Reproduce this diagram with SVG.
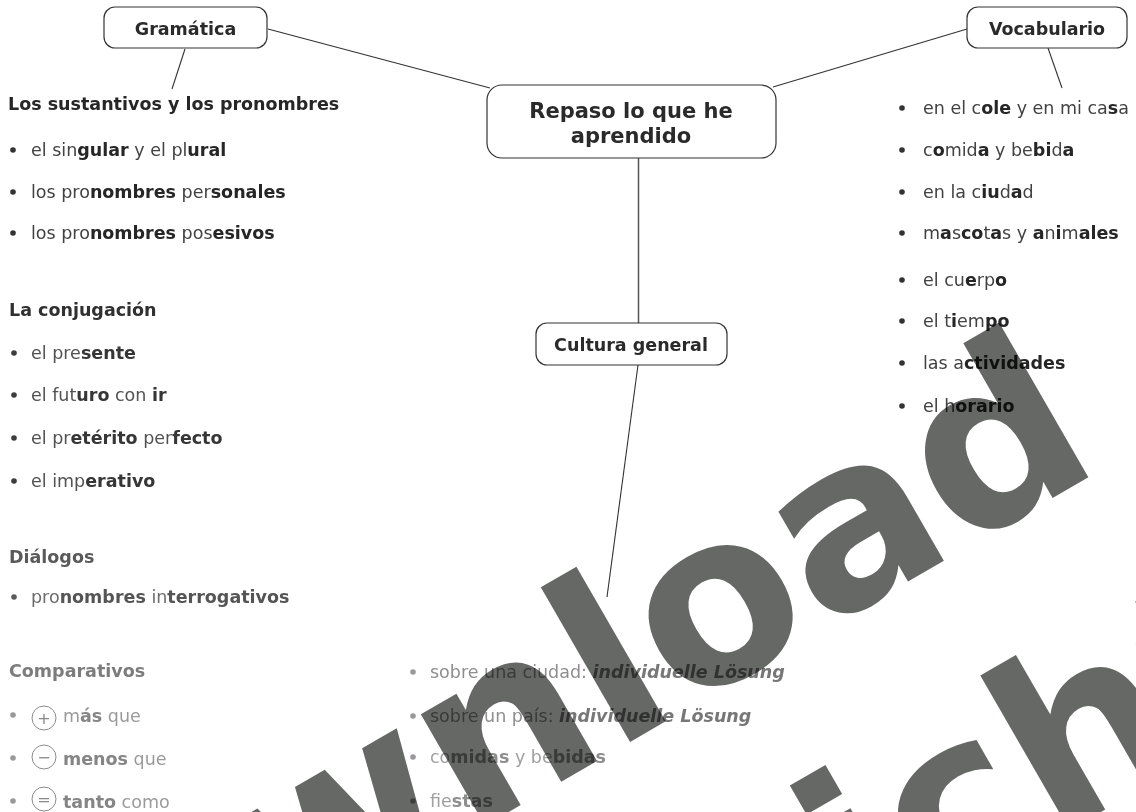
<svg xmlns="http://www.w3.org/2000/svg" width="1136" height="812" viewBox="0 0 1136 812">
<style>
text{font-family:"DejaVu Sans","Liberation Sans",sans-serif;font-size:17.5px}
.b{font-weight:bold}
.bi{font-weight:bold;font-style:italic}
.node rect{fill:#fff;stroke:#333;stroke-width:1.2}
.node text{font-weight:bold;fill:#2a2a2a;text-anchor:middle}
.t1{fill:#424242}.t1 .b{fill:#262626}
.t2{fill:#525252}.t2 .b{fill:#363636}
.t3{fill:#6c6c6c}.t3 .b{fill:#555}
.t4{fill:#9a9a9a}.t4 .b{fill:#858585}
.t5{fill:#8e8e8e}.t5 .bi{fill:#777}
.t6{fill:#a0a0a0}.t6 .b{fill:#8e8e8e}
.sym{fill:none;stroke:#8a8a8a;stroke-width:1}
.symt{fill:#8a8a8a;font-size:16px;text-anchor:middle}
</style>

<g id="connectors" stroke="#333" stroke-width="1.1" fill="none">
<line x1="268" y1="29" x2="490" y2="88"/>
<line x1="185" y1="49" x2="172" y2="89"/>
<line x1="773" y1="87" x2="967" y2="29"/>
<line x1="1048" y1="48" x2="1062" y2="88"/>
<line x1="638.5" y1="158" x2="638.5" y2="323" stroke="#555" stroke-width="1.5"/>
<line x1="638" y1="365" x2="607" y2="597"/>
</g>

<g id="node-gramatica" class="node">
<rect x="104" y="7" width="163" height="41" rx="11"/>
<text x="185.5" y="35">Gramática</text>
</g>
<g id="node-vocabulario" class="node">
<rect x="967" y="7" width="160" height="41" rx="11"/>
<text x="1047" y="35">Vocabulario</text>
</g>
<g id="node-central" class="node">
<rect x="487" y="85" width="289" height="73" rx="15"/>
<text x="631" y="118" style="font-size:21px">Repaso lo que he</text>
<text x="631" y="143" style="font-size:21px">aprendido</text>
</g>
<g id="node-cultura" class="node">
<rect x="536" y="323" width="191" height="42" rx="11"/>
<text x="631" y="351">Cultura general</text>
</g>

<g id="gramatica-list">
<text x="8" y="109.5" class="b" fill="#262626">Los sustantivos y los pronombres</text>
<g fill="#333"><circle cx="13" cy="150" r="2.8"/><circle cx="13" cy="192" r="2.8"/><circle cx="13" cy="233" r="2.8"/></g>
<text x="31" y="156" class="t1">el sin<tspan class="b">gular</tspan> y el pl<tspan class="b">ural</tspan></text>
<text x="31" y="198" class="t1">los pro<tspan class="b">nombres</tspan> per<tspan class="b">sonales</tspan></text>
<text x="31" y="239" class="t1">los pro<tspan class="b">nombres</tspan> pos<tspan class="b">esivos</tspan></text>

<text x="9" y="316" class="b" fill="#303030">La conjugación</text>
<g fill="#3c3c3c"><circle cx="14" cy="353" r="2.8"/><circle cx="14" cy="395" r="2.8"/><circle cx="14" cy="438" r="2.8"/><circle cx="14" cy="481" r="2.8"/></g>
<text x="31" y="359" class="t2">el pre<tspan class="b">sente</tspan></text>
<text x="31" y="401" class="t2">el fut<tspan class="b">uro</tspan> con <tspan class="b">ir</tspan></text>
<text x="31" y="444" class="t2">el pr<tspan class="b">etérito</tspan> per<tspan class="b">fecto</tspan></text>
<text x="31" y="487" class="t2">el imp<tspan class="b">erativo</tspan></text>

<text x="9" y="563" class="b" fill="#5a5a5a">Diálogos</text>
<circle cx="14" cy="597" r="2.8" fill="#5a5a5a"/>
<text x="31" y="603" class="t3">pro<tspan class="b">nombres</tspan> in<tspan class="b">terrogativos</tspan></text>

<text x="9" y="677" class="b" fill="#7c7c7c">Comparativos</text>
<g fill="#999"><circle cx="13" cy="715" r="2.8"/><circle cx="13" cy="758" r="2.8"/><circle cx="13" cy="801" r="2.8"/></g>
<circle class="sym" cx="44" cy="718" r="12"/><text class="symt" x="44" y="724">+</text>
<circle class="sym" cx="44" cy="757" r="12"/><text class="symt" x="44" y="763">−</text>
<circle class="sym" cx="44" cy="799" r="12"/><text class="symt" x="44" y="805">=</text>
<text x="63" y="722" class="t4">m<tspan class="b">ás</tspan> que</text>
<text x="63" y="765" class="t4"><tspan class="b">menos</tspan> que</text>
<text x="63" y="808" class="t4"><tspan class="b">tanto</tspan> como</text>
</g>

<g id="vocabulario-list">
<g fill="#333"><circle cx="902" cy="108" r="2.8"/><circle cx="902" cy="150" r="2.8"/><circle cx="902" cy="192" r="2.8"/><circle cx="902" cy="233" r="2.8"/><circle cx="902" cy="280" r="2.8"/><circle cx="902" cy="321" r="2.8"/><circle cx="902" cy="363" r="2.8"/><circle cx="902" cy="406" r="2.8"/></g>
<text x="923" y="114" class="t1">en el c<tspan class="b">ole</tspan> y en mi ca<tspan class="b">s</tspan>a</text>
<text x="923" y="156" class="t1">c<tspan class="b">o</tspan>mid<tspan class="b">a</tspan> y be<tspan class="b">bi</tspan>d<tspan class="b">a</tspan></text>
<text x="923" y="198" class="t1">en la c<tspan class="b">iu</tspan>d<tspan class="b">a</tspan>d</text>
<text x="923" y="239" class="t1">m<tspan class="b">a</tspan>s<tspan class="b">co</tspan>t<tspan class="b">a</tspan>s y <tspan class="b">a</tspan>n<tspan class="b">i</tspan>m<tspan class="b">ales</tspan></text>
<text x="923" y="286" class="t1">el cu<tspan class="b">e</tspan>rp<tspan class="b">o</tspan></text>
<text x="923" y="327" class="t1">el t<tspan class="b">i</tspan>em<tspan class="b">po</tspan></text>
<text x="923" y="369" class="t1">las a<tspan class="b">ctividades</tspan></text>
<text x="923" y="412" class="t1">el h<tspan class="b">orario</tspan></text>
</g>

<g id="cultura-list">
<g fill="#999"><circle cx="413" cy="672" r="2.8"/><circle cx="413" cy="716" r="2.8"/><circle cx="413" cy="757" r="2.8"/><circle cx="413" cy="801" r="2.8"/></g>
<text x="430" y="678" class="t5">sobre una ciudad: <tspan class="bi">individuelle Lösung</tspan></text>
<text x="430" y="722" class="t5">sobre un país: <tspan class="bi">individuelle Lösung</tspan></text>
<text x="430" y="763" class="t6">co<tspan class="b">midas</tspan> y be<tspan class="b">bidas</tspan></text>
<text x="430" y="807" class="t6">fie<tspan class="b">stas</tspan></text>
</g>

<g id="watermark" style="mix-blend-mode:multiply" fill="#666866">
<text transform="translate(280,944) rotate(-30)" style="font-size:235px;font-weight:bold">wnload</text>
<text transform="translate(862,950) rotate(-30)" style="font-size:235px;font-weight:bold">icht</text>
</g>
</svg>
